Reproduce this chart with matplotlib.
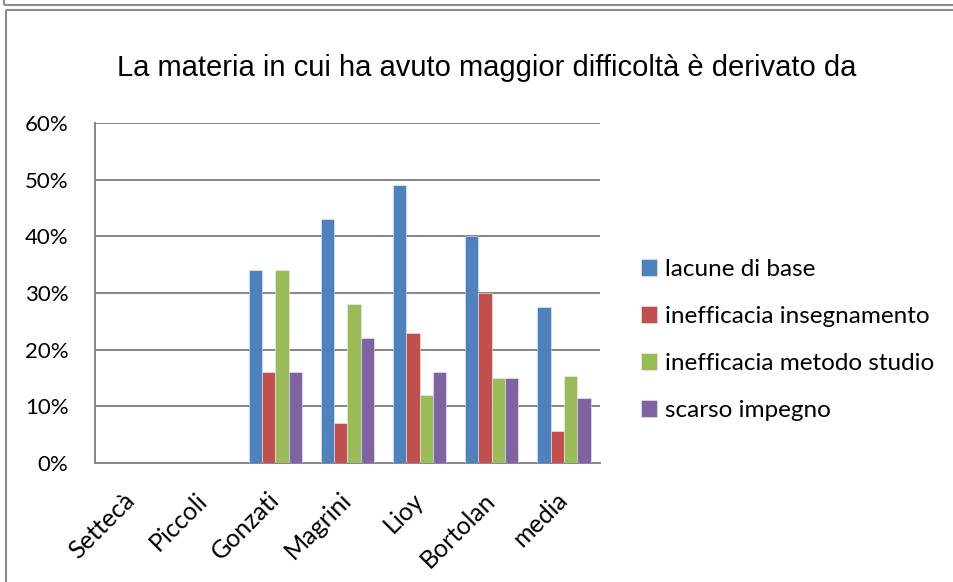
import numpy as np
import matplotlib.pyplot as plt
from matplotlib.lines import Line2D

# data
teachers = ["Settecà", "Piccoli", "Gonzati", "Magrini", "Lioy", "Bortolan", "media"]
lacune = [0, 0, 34, 43, 49, 40, 27.6]
insegnamento = [0, 0, 16, 7, 23, 30, 5.7]
metodo = [0, 0, 34, 28, 12, 15, 15.4]
impegno = [0, 0, 16, 22, 16, 15, 11.4]
series_names = ["lacune di base", "inefficacia insegnamento",
                "inefficacia metodo studio", "scarso impegno"]
colors = ["#4F81BD", "#C0504D", "#9BBB59", "#8064A2"]

W, H = 954, 582
fig = plt.figure(figsize=(W / 100, H / 100), dpi=100)
ax = fig.add_axes([95 / W, 1 - 463 / H, 505 / W, 340 / H])

x = np.arange(len(teachers))
bw = 0.185
for i, (vals, name, c) in enumerate(zip([lacune, insegnamento, metodo, impegno], series_names, colors)):
    ax.bar(x + (i - 1.5) * bw, vals, bw, color=c, label=name,
           edgecolor="#e8eef7", linewidth=0.4, zorder=3)

ax.set_xlim(-0.5, len(teachers) - 0.5)
ax.set_ylim(0, 60)
ax.set_yticks(range(0, 61, 10))
ax.set_yticklabels([f"{v}%" for v in range(0, 61, 10)], fontsize=16, family="Lato")
ax.set_xticks(x)
ax.set_xticklabels(teachers, rotation=45, ha="right", va="center", rotation_mode="anchor",
                   fontsize=18, family="Lato")
ax.tick_params(length=0)
ax.tick_params(axis="y", pad=19)
ax.tick_params(axis="x", pad=24)
ax.yaxis.grid(True, color="#868686", linewidth=1.4, zorder=0)
for s in ["top", "right"]:
    ax.spines[s].set_visible(False)
for s in ["left", "bottom"]:
    ax.spines[s].set_color("#868686")
    ax.spines[s].set_linewidth(1.4)

ax.legend(loc="center left", frameon=False, prop={"family": "Lato", "size": 17.5},
          handlelength=0.65, handleheight=0.65, handletextpad=0.35,
          labelspacing=1.07, borderpad=0, borderaxespad=0)
leg = ax.get_legend()
leg.set_bbox_to_anchor((641 / W, 1 - 340 / H), transform=fig.transFigure)

fig.text(487 / W, 1 - 68 / H, "La materia in cui ha avuto maggior difficoltà è derivato da",
         ha="center", va="center", fontsize=21, family="Liberation Sans")

# outer frames (pieces of the surrounding boxes)
frame = dict(color="#8c8c8c", lw=1.5, solid_capstyle="butt")
fig.add_artist(Line2D([4 / W, 1.0], [1 - 5 / H, 1 - 5 / H], **frame))
fig.add_artist(Line2D([6 / W, 1.0], [1 - 10 / H, 1 - 10 / H], **frame))
fig.add_artist(Line2D([4 / W, 4 / W], [1 - 5 / H, 1.0], **frame))
fig.add_artist(Line2D([6 / W, 6 / W], [0, 1 - 10 / H], **frame))

fig.savefig("out.png", dpi=100)
